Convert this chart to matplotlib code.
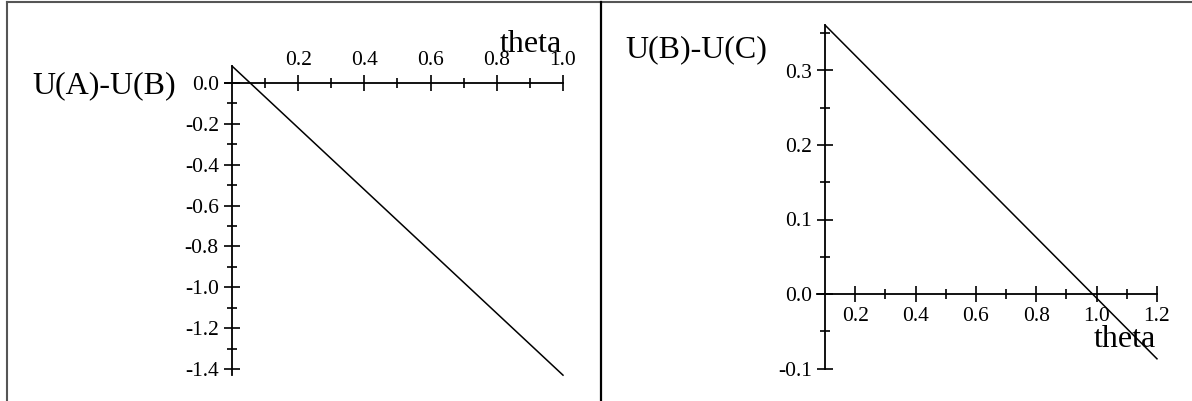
import numpy as np
import matplotlib
matplotlib.use("Agg")
import matplotlib.pyplot as plt
from matplotlib.lines import Line2D
from matplotlib.ticker import FixedLocator, FixedFormatter

plt.rcParams['font.family'] = ['Liberation Serif', 'DejaVu Serif']
plt.rcParams['axes.unicode_minus'] = False

# data
theta_ab = [0.0, 1.0]
diff_ab = [0.083, -1.43]
theta_bc = [0.1, 1.2]
diff_bc = [0.361, -0.087]

xticks_ab = [0.2, 0.4, 0.6, 0.8, 1.0]
xticklabels_ab = ["0.2", "0.4", "0.6", "0.8", "1.0"]
yticks_ab = [0.0, -0.2, -0.4, -0.6, -0.8, -1.0, -1.2, -1.4]
yticklabels_ab = ["0.0", "-0.2", "-0.4", "-0.6", "-0.8", "-1.0", "-1.2", "-1.4"]

xticks_bc = [0.2, 0.4, 0.6, 0.8, 1.0, 1.2]
xticklabels_bc = ["0.2", "0.4", "0.6", "0.8", "1.0", "1.2"]
yticks_bc = [-0.1, 0.0, 0.1, 0.2, 0.3]
yticklabels_bc = ["-0.1", "0.0", "0.1", "0.2", "0.3"]

W, H = 1192, 401
fig = plt.figure(figsize=(W / 100, H / 100), dpi=100)


def axes_from_pixels(xlim, ylim, x0, px0, xscale, y0, py0, yscale):
    # pixel mapping -> axes rectangle in figure fractions
    left = px0 + (xlim[0] - x0) * xscale
    right = px0 + (xlim[1] - x0) * xscale
    top = py0 - (ylim[1] - y0) * yscale
    bottom = py0 - (ylim[0] - y0) * yscale
    ax = fig.add_axes([left / W, 1 - bottom / H, (right - left) / W, (bottom - top) / H])
    ax.set_xlim(*xlim)
    ax.set_ylim(*ylim)
    ax.patch.set_visible(False)
    return ax


def style_axis(ax):
    for s in ax.spines.values():
        s.set_linewidth(1.3)
        s.set_color('black')
    ax.tick_params(which='both', direction='inout', width=1.2, labelsize=15.5,
                   pad=4, colors='black')
    ax.tick_params(which='major', length=11)
    ax.tick_params(which='minor', length=6.5)


# left panel
ax1 = axes_from_pixels((-0.05, 1.05), (-1.5, 0.12), 0.0, 232, 331, 0.0, 83, 204.3)
style_axis(ax1)
ax1.plot(theta_ab, diff_ab, color='black', linewidth=1.1)
ax1.spines['bottom'].set_visible(False)
ax1.spines['right'].set_visible(False)
ax1.spines['top'].set_position(('data', 0))
ax1.spines['left'].set_position(('data', 0))
ax1.spines['top'].set_bounds(-0.02, 1.0)
ax1.spines['left'].set_bounds(-1.43, 0.083)
ax1.xaxis.tick_top()
ax1.xaxis.set_major_locator(FixedLocator(xticks_ab))
ax1.xaxis.set_major_formatter(FixedFormatter(xticklabels_ab))
ax1.xaxis.set_minor_locator(FixedLocator([0.1, 0.3, 0.5, 0.7, 0.9]))
ax1.yaxis.set_major_locator(FixedLocator(yticks_ab))
ax1.yaxis.set_major_formatter(FixedFormatter(yticklabels_ab))
ax1.yaxis.set_minor_locator(FixedLocator([-0.1, -0.3, -0.5, -0.7, -0.9, -1.1, -1.3]))

# right panel
ax2 = axes_from_pixels((0.05, 1.25), (-0.13, 0.38), 0.1, 825, 301.8, 0.0, 294, 745)
style_axis(ax2)
ax2.plot(theta_bc, diff_bc, color='black', linewidth=1.1)
ax2.spines['top'].set_visible(False)
ax2.spines['right'].set_visible(False)
ax2.spines['bottom'].set_position(('data', 0))
ax2.spines['left'].set_position(('data', 0.1))
ax2.spines['bottom'].set_bounds(0.075, 1.2)
ax2.spines['left'].set_bounds(-0.1, 0.361)
ax2.xaxis.set_major_locator(FixedLocator(xticks_bc))
ax2.xaxis.set_major_formatter(FixedFormatter(xticklabels_bc))
ax2.xaxis.set_minor_locator(FixedLocator([0.3, 0.5, 0.7, 0.9, 1.1]))
ax2.yaxis.set_major_locator(FixedLocator(yticks_bc))
ax2.yaxis.set_major_formatter(FixedFormatter(yticklabels_bc))
ax2.yaxis.set_minor_locator(FixedLocator([-0.05, 0.05, 0.15, 0.25, 0.35]))

# axis titles
big = 23
fig.text(32 / W, 1 - 93 / H, "U(A)-U(B)", fontsize=big, va='baseline', ha='left')
fig.text(562 / W, 1 - 52 / H, "theta", fontsize=big, va='baseline', ha='right')
fig.text(625 / W, 1 - 57 / H, "U(B)-U(C)", fontsize=big, va='baseline', ha='left')
fig.text(1156 / W, 1 - 347 / H, "theta", fontsize=big, va='baseline', ha='right')

# frame and divider
fig.add_artist(Line2D([6.5 / W, 1.0], [1 - 1.5 / H, 1 - 1.5 / H], color='#555555', linewidth=1.5))
fig.add_artist(Line2D([6.5 / W, 6.5 / W], [0, 1 - 1.5 / H], color='#555555', linewidth=1.5))
fig.add_artist(Line2D([600.5 / W, 600.5 / W], [0, 1 - 1.5 / H], color='black', linewidth=1.6))

fig.savefig("out.png", dpi=100)
